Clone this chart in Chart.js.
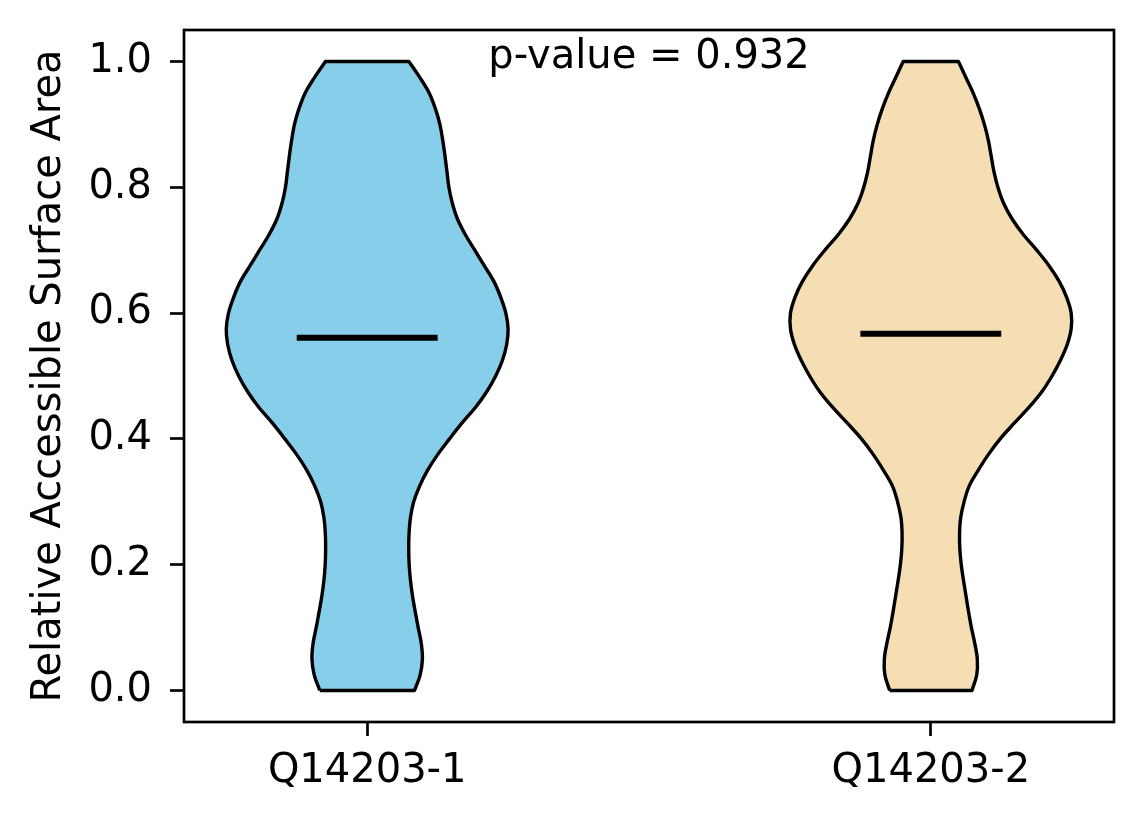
<!DOCTYPE html>
<html>
<head>
<meta charset="utf-8">
<title>Relative Accessible Surface Area</title>
<script src="https://cdn.jsdelivr.net/npm/chart.js@4.4.1/dist/chart.umd.min.js"></script>
<style>
  html, body { margin: 0; padding: 0; background: #fff; }
  #wrap { width: 1144px; height: 824px; }
</style>
</head>
<body>
<div id="wrap"><canvas id="violinChart" width="1144" height="824"></canvas></div>
<script>
// groups on the x axis
const categories = ['Q14203-1', 'Q14203-2'];
const positions = [1, 2];
const fillColors = ['#87ceeb', '#f5deb3'];
const medians = [0.561, 0.567];
const pValueText = 'p-value = 0.932';
const pValuePos = { x: 1.5, y: 0.99 };

const levels = [0, 0.025, 0.05, 0.075, 0.1, 0.125, 0.15, 0.175, 0.2, 0.225,
  0.25, 0.275, 0.3, 0.325, 0.35, 0.375, 0.4, 0.425, 0.45, 0.475,
  0.5, 0.525, 0.55, 0.575, 0.6, 0.625, 0.65, 0.675, 0.7, 0.725,
  0.75, 0.775, 0.8, 0.825, 0.85, 0.875, 0.9, 0.925, 0.95, 0.975, 1.0];

// half widths (x units) of each violin at those levels
const halfWidths1 = [0.084, 0.094, 0.098, 0.096, 0.0905, 0.0853, 0.0805, 0.0768, 0.0745, 0.0737,
  0.0743, 0.0768, 0.0825, 0.093, 0.107, 0.125, 0.146, 0.168, 0.192, 0.212,
  0.228, 0.240, 0.2475, 0.250, 0.246, 0.237, 0.225, 0.208, 0.191, 0.174,
  0.160, 0.151, 0.145, 0.1415, 0.138, 0.134, 0.129, 0.121, 0.110, 0.093, 0.074];
const halfWidths2 = [0.073, 0.0815, 0.0825, 0.078, 0.072, 0.067, 0.0625, 0.058, 0.054, 0.0515,
  0.051, 0.053, 0.059, 0.068, 0.084, 0.102, 0.123, 0.148, 0.174, 0.197,
  0.215, 0.230, 0.242, 0.249, 0.249, 0.241, 0.228, 0.210, 0.188, 0.164,
  0.144, 0.129, 0.119, 0.112, 0.107, 0.102, 0.095, 0.086, 0.075, 0.062, 0.049];

const yTicks = [0, 0.2, 0.4, 0.6, 0.8, 1.0];
const medianHalf = 0.125;

// closed outline: up the left side, down the right side.
// corner points are doubled so the smoothing keeps the flat ends square
function outline(center, half) {
    const n = levels.length;
    const left = [], right = [];
    for (let i = 0; i < n; i++) left.push({ x: center - half[i], y: levels[i] });
    for (let i = n - 1; i >= 0; i--) right.push({ x: center + half[i], y: levels[i] });
    const pts = [left[0]].concat(left, [left[n - 1]], [right[0]], right, [right[n - 1]]);
    pts.push({ x: left[0].x, y: left[0].y });
    return pts.map(function(p) { return { x: p.x, y: p.y }; });
}

const allHalves = [halfWidths1, halfWidths2];
const datasets = [];
positions.forEach(function(pos, i) {
    datasets.push({
        label: categories[i],
        data: outline(pos, allHalves[i]),
        order: 2,
        showLine: true,
        fill: 'shape',
        backgroundColor: fillColors[i],
        borderColor: '#000',
        borderWidth: 3.4,
        borderJoinStyle: 'round',
        tension: 0.35,
        pointRadius: 0
    });
});
// median bars sit on top of the bodies
positions.forEach(function(pos, i) {
    datasets.push({
        label: categories[i] + ' median',
        data: [{ x: pos - medianHalf, y: medians[i] }, { x: pos + medianHalf, y: medians[i] }],
        order: 0,
        showLine: true,
        fill: false,
        borderColor: '#000',
        borderWidth: 6,
        borderCapStyle: 'butt',
        pointRadius: 0
    });
});

// full box round the plot plus the p-value note
const framePlugin = {
    id: 'frame',
    afterDraw(chart) {
        const { ctx, chartArea: a, scales } = chart;
        ctx.save();
        ctx.strokeStyle = '#000';
        ctx.lineWidth = 2.7;
        ctx.strokeRect(a.left, a.top, a.right - a.left, a.bottom - a.top);
        ctx.fillStyle = '#000';
        ctx.font = "40px 'DejaVu Sans'";
        ctx.textAlign = 'center';
        ctx.textBaseline = 'alphabetic';
        ctx.fillText(pValueText, scales.x.getPixelForValue(pValuePos.x), scales.y.getPixelForValue(pValuePos.y));
        ctx.restore();
    }
};

Chart.defaults.font.family = "'DejaVu Sans', sans-serif";
Chart.defaults.font.size = 40;
Chart.defaults.color = '#000';

new Chart(document.getElementById('violinChart'), {
    type: 'scatter',
    data: { datasets: datasets },
    plugins: [framePlugin],
    options: {
        responsive: false,
        animation: false,
        devicePixelRatio: 1,
        layout: { padding: { top: 30, right: 30, left: 0, bottom: 0 } },
        plugins: {
            legend: { display: false },
            tooltip: { enabled: false }
        },
        scales: {
            x: {
                type: 'linear',
                min: 0.675,
                max: 2.325,
                afterBuildTicks: function(scale) {
                    scale.ticks = positions.map(function(p) { return { value: p }; });
                },
                afterFit: function(scale) {
                    scale.height = 102;
                    scale.paddingLeft = 0;
                    scale.paddingRight = 0;
                },
                ticks: {
                    padding: 12,
                    callback: function(value) {
                        const i = positions.indexOf(value);
                        return i >= 0 ? categories[i] : '';
                    }
                },
                grid: {
                    drawOnChartArea: false,
                    tickLength: 14,
                    tickWidth: 2.7,
                    tickColor: '#000'
                },
                border: { display: false }
            },
            y: {
                min: -0.05,
                max: 1.05,
                afterBuildTicks: function(scale) {
                    scale.ticks = yTicks.map(function(v) { return { value: v }; });
                },
                afterFit: function(scale) {
                    scale.width = 184;
                    scale.paddingTop = 0;
                    scale.paddingBottom = 0;
                },
                ticks: {
                    padding: 18,
                    callback: function(value) { return value.toFixed(1); }
                },
                title: {
                    display: true,
                    text: 'Relative Accessible Surface Area',
                    padding: { top: 26, bottom: 0 }
                },
                grid: {
                    drawOnChartArea: false,
                    tickLength: 14,
                    tickWidth: 2.7,
                    tickColor: '#000'
                },
                border: { display: false }
            }
        }
    }
});
</script>
</body>
</html>
